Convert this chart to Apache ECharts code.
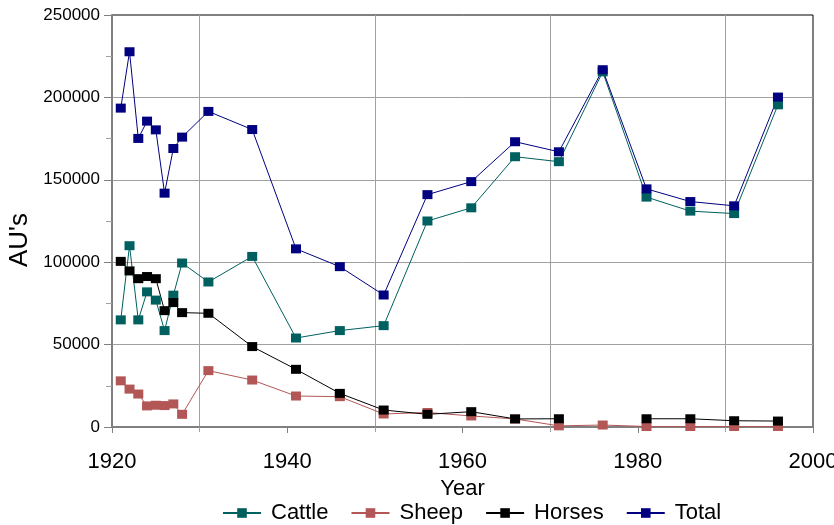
<!DOCTYPE html>
<html>
<head>
<meta charset="utf-8">
<script src="https://cdn.jsdelivr.net/npm/echarts@6/dist/echarts.min.js"></script>
<style>
	html, body { margin: 0; padding: 0; background: #fff; }
	#chart { width: 834px; height: 525px; }
</style>
</head>
<body>
<div id="chart"></div>
<script>
var years = [1921, 1922, 1923, 1924, 1925, 1926, 1927, 1928, 1931, 1936, 1941, 1946, 1951, 1956, 1961, 1966, 1971, 1976, 1981, 1986, 1991, 1996];
var cattle = [65000, 110000, 65000, 82000, 77000, 58500, 80000, 99500, 88000, 103500, 54000, 58500, 61500, 125000, 133000, 164000, 161000, 215500, 139500, 131000, 129500, 195500];
var sheep = [28000, 23000, 20000, 12800, 13200, 13000, 14000, 7700, 34200, 28500, 18800, 18400, 7900, 8800, 6700, 4900, 700, 1200, 300, 300, 300, 300];
var horses = [100500, 94700, 90000, 91300, 90000, 70600, 75500, 69400, 69000, 48800, 35000, 20400, 10300, 7700, 9300, 4900, 5000, null, 5000, 5000, 3800, 3600];
var total = [193500, 227700, 175100, 185600, 180300, 141900, 169000, 175900, 191500, 180500, 108100, 97300, 80100, 141000, 148900, 173100, 167000, 216800, 144500, 136800, 134200, 200200];

var seriesNames = ['Cattle', 'Sheep', 'Horses', 'Total'];
var seriesColors = ['#005f5f', '#b35656', '#000000', '#000080'];
var seriesValues = [cattle, sheep, horses, total];

var font = 'Liberation Sans, Arial, sans-serif';

// pair every value with its year
function pairs(values) {
	var out = [];
	for (var i = 0; i < years.length; i++) {
		out.push([years[i], values[i]]);
	}
	return out;
}

// plain numbers, no thousands separator
function plain(v) {
	return String(v);
}

var series = [];
for (var s = 0; s < seriesNames.length; s++) {
	series.push({
		name: seriesNames[s],
		type: 'line',
		data: pairs(seriesValues[s]),
		connectNulls: false,
		symbol: 'rect',
		symbolSize: [10, 9],
		color: seriesColors[s],
		lineStyle: { width: 1, color: seriesColors[s] },
		itemStyle: { color: seriesColors[s], borderWidth: 0 },
		animation: false
	});
}

var myChart = echarts.init(document.getElementById('chart'), null, { renderer: 'canvas' });

var options = {
	textStyle: { fontFamily: font },
	grid: {
		left: 112,
		right: 21,
		top: 15,
		bottom: 98,
		outerBoundsMode: 'none',
		containLabel: false,
		show: true,
		borderColor: '#000',
		borderWidth: 1
	},
	legend: {
		data: seriesNames,
		left: 217,
		top: 497,
		itemWidth: 38,
		itemHeight: 12,
		itemGap: 22,
		textStyle: { fontSize: 22, color: '#000', fontFamily: font, padding: [0, 0, 0, 5] }
	},
	xAxis: {
		type: 'value',
		min: 1920,
		max: 2000,
		interval: 20,
		name: 'Year',
		nameLocation: 'middle',
		nameGap: 47,
		nameTextStyle: { fontSize: 22, color: '#000', fontFamily: font },
		axisLine: { onZero: false, lineStyle: { color: '#808080', width: 2 } },
		axisTick: { show: true, length: 6, lineStyle: { color: '#808080' } },
		minorTick: { show: true, splitNumber: 2, length: 5, lineStyle: { color: '#a0a0a0' } },
		axisLabel: { fontSize: 22, color: '#000', margin: 24, fontFamily: font, formatter: plain },
		splitLine: { show: false },
		minorSplitLine: { show: true, lineStyle: { color: '#a0a0a0', width: 1 } }
	},
	yAxis: {
		type: 'value',
		min: 0,
		max: 250000,
		interval: 50000,
		name: "AU's",
		nameLocation: 'middle',
		nameGap: 72,
		nameTextStyle: { fontSize: 26, color: '#000', fontFamily: font, padding: [0, 38, 0, 0] },
		axisLine: { show: true, lineStyle: { color: '#808080', width: 2 } },
		axisTick: { show: true, length: 8, lineStyle: { color: '#808080' } },
		minorTick: { show: true, splitNumber: 2, length: 6, lineStyle: { color: '#a0a0a0' } },
		axisLabel: { fontSize: 17, color: '#000', margin: 12, fontFamily: font, formatter: plain },
		splitLine: { show: true, showMinLine: false, showMaxLine: false, lineStyle: { color: '#a0a0a0', width: 1 } },
		minorSplitLine: { show: false }
	},
	series: series
};

myChart.setOption(options);
</script>
</body>
</html>
